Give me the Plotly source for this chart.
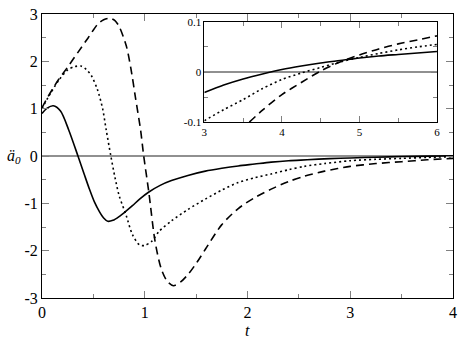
import plotly.graph_objects as go

# ---- main panel data (t, a0'') ----
t_solid = [0.0, 0.05, 0.11, 0.18, 0.26, 0.35, 0.41, 0.46, 0.51, 0.56, 0.60, 0.64, 0.69, 0.75, 0.82, 0.88, 0.95, 1.04, 1.15, 1.26, 1.42, 1.59, 1.75, 1.91, 2.07, 2.23, 2.40, 2.58, 2.80, 3.0, 3.25, 3.5, 3.75, 4.0]
v_solid = [0.90, 1.01, 1.06, 0.95, 0.55, 0.0, -0.38, -0.69, -0.97, -1.18, -1.31, -1.38, -1.36, -1.28, -1.16, -1.05, -0.91, -0.76, -0.62, -0.52, -0.41, -0.32, -0.26, -0.21, -0.17, -0.13, -0.10, -0.08, -0.055, -0.042, -0.025, -0.012, -0.003, 0.005]

t_dot = [0.0, 0.06, 0.16, 0.25, 0.32, 0.38, 0.43, 0.48, 0.54, 0.59, 0.625, 0.67, 0.71, 0.75, 0.82, 0.88, 0.95, 1.0, 1.07, 1.14, 1.26, 1.42, 1.59, 1.75, 1.91, 2.07, 2.23, 2.40, 2.55, 2.75, 3.0, 3.25, 3.5, 3.75, 4.0]
v_dot = [1.0, 1.24, 1.59, 1.82, 1.89, 1.90, 1.83, 1.70, 1.40, 1.0, 0.55, 0.0, -0.45, -0.83, -1.26, -1.66, -1.88, -1.89, -1.80, -1.59, -1.37, -1.13, -0.91, -0.72, -0.56, -0.46, -0.38, -0.29, -0.22, -0.16, -0.10, -0.070, -0.050, -0.030, -0.014]

t_dash = [0.0, 0.06, 0.16, 0.25, 0.35, 0.45, 0.54, 0.60, 0.66, 0.71, 0.75, 0.82, 0.865, 0.91, 0.96, 0.99, 1.04, 1.10, 1.16, 1.22, 1.28, 1.35, 1.43, 1.51, 1.59, 1.75, 1.91, 2.07, 2.23, 2.40, 2.55, 2.75, 3.0, 3.25, 3.5, 3.75, 4.0]
v_dash = [1.02, 1.26, 1.61, 1.88, 2.19, 2.50, 2.78, 2.88, 2.91, 2.86, 2.74, 2.33, 1.85, 1.23, 0.54, 0.0, -0.77, -1.80, -2.38, -2.65, -2.74, -2.66, -2.48, -2.24, -1.97, -1.45, -1.11, -0.88, -0.70, -0.54, -0.43, -0.32, -0.22, -0.16, -0.12, -0.08, -0.05]

# ---- inset data ----
ti = [3.0, 3.25, 3.5, 3.75, 4.0, 4.25, 4.5, 4.75, 5.0, 5.25, 5.5, 5.75, 6.0]
vi_solid = [-0.041, -0.026, -0.014, -0.004, 0.005, 0.012, 0.018, 0.023, 0.028, 0.032, 0.035, 0.038, 0.041]
vi_dot = [-0.097, -0.075, -0.055, -0.033, -0.015, -0.002, 0.009, 0.020, 0.029, 0.037, 0.044, 0.050, 0.055]
ti_dash = [3.58, 3.75, 4.0, 4.25, 4.5, 4.75, 5.0, 5.25, 5.5, 5.75, 6.0]
vi_dash = [-0.100, -0.076, -0.045, -0.021, 0.002, 0.020, 0.034, 0.046, 0.056, 0.064, 0.072]

main_xticks = [0, 1, 2, 3, 4]
main_xlabels = ["0", "1", "2", "3", "4"]
main_yticks = [-3, -2, -1, 0, 1, 2, 3]
main_ylabels = ["-3", "-2", "-1", "0", "1", "2", "3"]
inset_xticks = [3, 4, 5, 6]
inset_xlabels = ["3", "4", "5", "6"]
inset_yticks = [-0.1, 0, 0.1]
inset_ylabels = ["-0.1", "0", "0.1"]

serif = "'Liberation Serif', 'DejaVu Serif', serif"
lw = 1.6
DOT = "2px,3px"
DASH = "8px,5px"

fig = go.Figure()
for x, y, dash in [(t_solid, v_solid, "solid"), (t_dot, v_dot, DOT), (t_dash, v_dash, DASH)]:
    fig.add_trace(go.Scatter(x=x, y=y, mode="lines", line=dict(color="black", width=lw, dash=dash, shape="spline", smoothing=0.8),
                             xaxis="x", yaxis="y", showlegend=False, hoverinfo="skip"))
for x, y, dash in [(ti, vi_solid, "solid"), (ti, vi_dot, DOT), (ti_dash, vi_dash, DASH)]:
    fig.add_trace(go.Scatter(x=x, y=y, mode="lines", line=dict(color="black", width=lw, dash=dash, shape="spline", smoothing=0.8),
                             xaxis="x2", yaxis="y2", showlegend=False, hoverinfo="skip"))

axcommon = dict(showline=True, linecolor="black", linewidth=1, mirror="allticks", ticks="inside",
                tickcolor="#808080", showgrid=False, ticklabeloverflow="allow",
                tickfont=dict(family=serif, size=16, color="black"))
insetfont = dict(family=serif, size=11, color="black")

fig.update_layout(
    width=463, height=338,
    margin=dict(l=42, r=6, t=7, b=40),
    paper_bgcolor="white", plot_bgcolor="white",
    font=dict(family=serif, color="black"),
    xaxis=dict(range=[0, 4], tickvals=main_xticks, ticktext=main_xlabels, ticklen=7,
               minor=dict(dtick=0.5, ticklen=4, ticks="inside", tickcolor="#808080"),
               zeroline=False, domain=[0, 1], **axcommon),
    yaxis=dict(range=[-3, 3], tickvals=main_yticks, ticktext=main_ylabels, ticklen=7,
               minor=dict(dtick=0.5, ticklen=4, ticks="inside", tickcolor="#808080"),
               zeroline=True, zerolinecolor="#909090", zerolinewidth=1.5, domain=[0, 1], **axcommon),
    xaxis2=dict(range=[3, 6], tickvals=inset_xticks, ticktext=inset_xlabels, ticklen=6,
                minor=dict(dtick=0.5, ticklen=4, ticks="inside", tickcolor="#808080"),
                anchor="y2", domain=[0.395, 0.961], zeroline=False,
                **{**axcommon, "tickfont": insetfont}),
    yaxis2=dict(range=[-0.1, 0.1], tickvals=inset_yticks, ticktext=inset_ylabels, ticklen=6,
                minor=dict(dtick=0.05, ticklen=4, ticks="inside", tickcolor="#808080"),
                anchor="x2", domain=[0.619, 0.9725], zeroline=True, zerolinecolor="#909090", zerolinewidth=1.5,
                **{**axcommon, "tickfont": insetfont}),
    shapes=[dict(type="rect", xref="paper", yref="paper", x0=0.395, x1=0.961, y0=0.619, y1=0.9725,
                 fillcolor="white", line=dict(width=0), layer="below")],
    annotations=[
        dict(text="<i>t</i>", xref="paper", yref="paper", x=0.5, y=-0.113, yanchor="middle", showarrow=False,
             font=dict(family=serif, size=16, color="black")),
        dict(text="<i>ä</i><sub><i>0</i></sub>", xref="paper", yref="y", x=-0.067, y=0, xanchor="center", yanchor="middle",
             showarrow=False, font=dict(family=serif, size=16, color="black")),
    ],
)

fig.write_html("out.html", config={"displayModeBar": False, "staticPlot": True},
               post_script="document.body.style.margin='0';document.body.style.overflow='hidden';")
